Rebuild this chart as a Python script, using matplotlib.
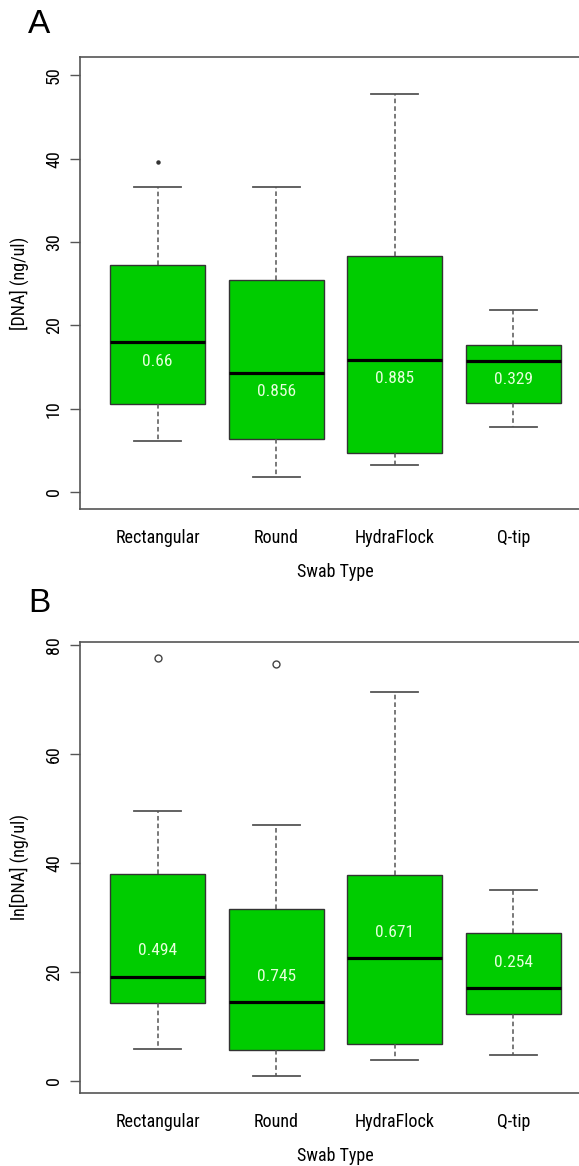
import matplotlib
matplotlib.use("Agg")
import matplotlib.pyplot as plt

# ---------------- data ----------------
categories = ["Rectangular", "Round", "HydraFlock", "Q-tip"]

# Panel A: [DNA] (ng/ul)
a_whislo = [6.1, 1.8, 3.2, 7.8]
a_q1 = [10.6, 6.4, 4.7, 10.7]
a_med = [18.0, 14.3, 15.8, 15.7]
a_q3 = [27.2, 25.4, 28.3, 17.7]
a_whishi = [36.6, 36.6, 47.8, 21.9]
a_fliers = [[39.6], [], [], []]
a_labels = ["0.66", "0.856", "0.885", "0.329"]
a_label_y = [15.7, 12.1, 13.6, 13.5]

# Panel B: ln[DNA] (ng/ul)
b_whislo = [5.9, 0.9, 3.9, 4.8]
b_q1 = [14.3, 5.7, 6.7, 12.3]
b_med = [19.1, 14.5, 22.6, 17.1]
b_q3 = [37.9, 31.6, 37.8, 27.2]
b_whishi = [49.5, 47.0, 71.4, 35.0]
b_fliers = [[77.6], [76.5], [], []]
b_labels = ["0.494", "0.745", "0.671", "0.254"]
b_label_y = [24.0, 19.1, 27.3, 21.8]

# ---------------- style ----------------
plt.rcParams["font.family"] = ["Roboto Condensed", "Liberation Sans", "DejaVu Sans"]

W, H = 579, 1166
fig = plt.figure(figsize=(W / 100, H / 100), dpi=100)

GREEN = "#00cc00"
GRAY = "#555555"


def panel(rect, whislo, q1, med, q3, whishi, fliers, labels, label_y,
          ylim, yticks, ylabel, flier_style):
    ax = fig.add_axes(rect)
    stats = []
    for i in range(len(categories)):
        stats.append(dict(med=med[i], q1=q1[i], q3=q3[i], whislo=whislo[i],
                          whishi=whishi[i], fliers=fliers[i], label=categories[i]))
    pos = list(range(1, len(categories) + 1))
    ax.bxp(stats, positions=pos, widths=0.8, patch_artist=True, showfliers=True,
           boxprops=dict(facecolor=GREEN, edgecolor="#333333", linewidth=1.0),
           medianprops=dict(color="black", linewidth=2.3, solid_capstyle="butt"),
           whiskerprops=dict(color=GRAY, linewidth=1.1, linestyle=(0, (3, 2))),
           capprops=dict(color=GRAY, linewidth=1.3),
           capwidths=0.4,
           flierprops=flier_style)
    for i, t in enumerate(labels):
        ax.text(pos[i], label_y[i], t, ha="center", va="center",
                color="#e6ffdc", fontsize=12.5)
    ax.set_xlim(0.344, 4.648)
    ax.set_ylim(*ylim)
    ax.set_yticks(yticks)
    ax.set_yticklabels([str(v) for v in yticks], rotation=90, va="center")
    ax.tick_params(axis="y", length=7.2, width=1.0, color=GRAY, pad=5,
                   labelsize=13)
    ax.tick_params(axis="x", length=0, pad=14.5, labelsize=13)
    ax.set_xticks(pos)
    ax.set_xticklabels(categories)
    for s in ax.spines.values():
        s.set_color(GRAY)
        s.set_linewidth(1.2)
    ax.spines["right"].set_visible(False)
    ax.set_xlabel("Swab Type", fontsize=13, labelpad=11.5)
    ax.set_ylabel(ylabel, fontsize=13)
    ax.yaxis.set_label_coords(-0.1, 0.5)
    return ax


axw = (590 - 80) / W
panel([80 / W, (H - 509) / H, axw, (509 - 57) / H],
      a_whislo, a_q1, a_med, a_q3, a_whishi, a_fliers, a_labels, a_label_y,
      (-2.04, 52.2), [0, 10, 20, 30, 40, 50], "[DNA] (ng/ul)",
      dict(marker="o", markersize=2.2, markerfacecolor="#333333",
           markeredgecolor="#333333", linestyle="none"))

panel([80 / W, (H - 1093) / H, axw, (1093 - 642) / H],
      b_whislo, b_q1, b_med, b_q3, b_whishi, b_fliers, b_labels, b_label_y,
      (-2.2, 80.55), [0, 20, 40, 60, 80], "ln[DNA] (ng/ul)",
      dict(marker="o", markersize=5, markerfacecolor="none",
           markeredgecolor="#444444", markeredgewidth=1.0, linestyle="none"))

fig.text(28 / W, (H - 33) / H, "A", fontsize=24, ha="left", va="baseline",
         family=["Liberation Sans", "DejaVu Sans"])
fig.text(28 / W, (H - 612) / H, "B", fontsize=24, ha="left", va="baseline",
         family=["Liberation Sans", "DejaVu Sans"])

fig.savefig("out.png", dpi=100, facecolor="white")
